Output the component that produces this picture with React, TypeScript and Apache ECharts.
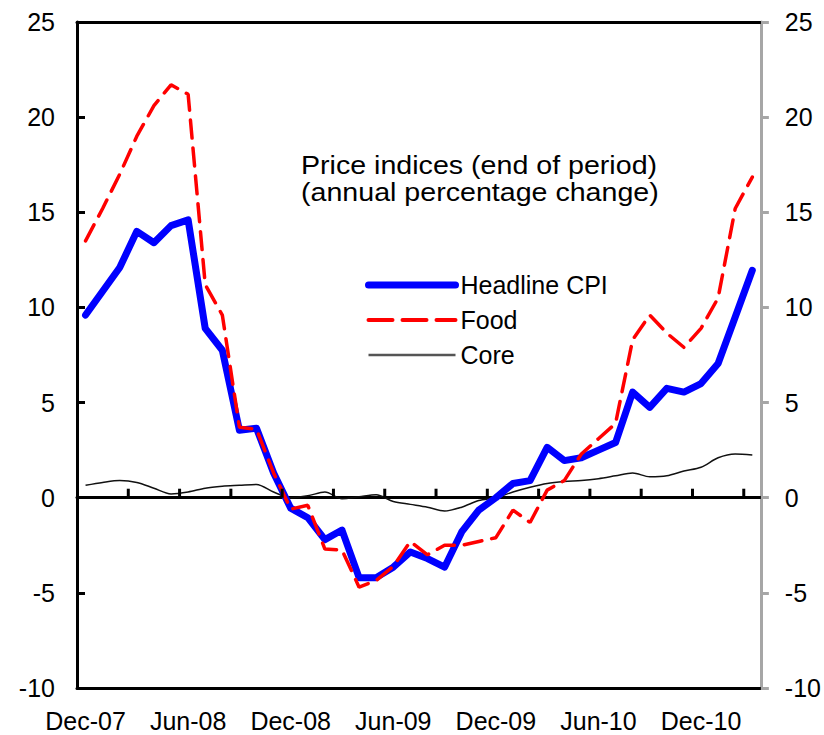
import React, { useEffect, useRef } from "react";
import * as echarts from "echarts";

const months = [
  "Dec-07","Jan-08","Feb-08","Mar-08","Apr-08","May-08","Jun-08","Jul-08","Aug-08","Sep-08","Oct-08","Nov-08",
  "Dec-08","Jan-09","Feb-09","Mar-09","Apr-09","May-09","Jun-09","Jul-09","Aug-09","Sep-09","Oct-09","Nov-09",
  "Dec-09","Jan-10","Feb-10","Mar-10","Apr-10","May-10","Jun-10","Jul-10","Aug-10","Sep-10","Oct-10","Nov-10",
  "Dec-10","Jan-11","Feb-11","Mar-11",
];

const headlineCPI = [
  9.6, 10.85, 12.1, 14.0, 13.4, 14.3, 14.6, 8.9, 7.75, 3.55, 3.65, 1.3,
  -0.55, -1.05, -2.2, -1.7, -4.2, -4.2, -3.65, -2.85, -3.2, -3.65, -1.8, -0.65,
  0.0, 0.75, 0.9, 2.65, 1.95, 2.1, 2.5, 2.9, 5.55, 4.75, 5.75, 5.55,
  6.0, 7.05, 9.5, 11.95,
];

const food = [
  13.5, 15.2, 17.0, 19.0, 20.6, 21.7, 21.2, 11.2, 9.6, 3.7, 3.6, 1.3,
  -0.6, -0.4, -2.7, -2.75, -4.7, -4.35, -3.6, -2.3, -3.0, -2.5, -2.5, -2.3,
  -2.1, -0.65, -1.3, 0.4, 0.9, 2.3, 3.1, 3.9, 8.3, 9.6, 8.65, 7.9,
  8.9, 10.5, 15.2, 16.85,
];

const core = [
  0.65, 0.8, 0.9, 0.8, 0.5, 0.2, 0.3, 0.5, 0.6, 0.65, 0.7, 0.3,
  0.0, 0.1, 0.3, -0.05, 0.05, 0.15, -0.2, -0.35, -0.5, -0.7, -0.5, -0.15,
  0.0, 0.3, 0.55, 0.75, 0.85, 0.9, 1.0, 1.15, 1.3, 1.1, 1.15, 1.4,
  1.6, 2.1, 2.3, 2.25,
];

const titleLines = ["Price indices (end of period)", "(annual percentage change)"];

// zero-line tick marks: at every third month boundary
const TICK_STEP = 3;
const zeroTickIndices = months.map((_, i) => i).filter((i) => i > 0 && i % TICK_STEP === 0);

const FONT = "Liberation Sans, Arial, sans-serif";

const titleGraphic = {
  type: "text",
  id: "title",
  x: 301,
  y: 151,
  scaleX: 1.1,
  style: {
    text: titleLines.join("\n"),
    font: `26px ${FONT}`,
    fill: "#000",
    lineHeight: 27,
  },
};

export default function App() {
  const ref = useRef<HTMLDivElement>(null);

  useEffect(() => {
    if (!ref.current) return;
    const chart = echarts.init(ref.current, undefined, { renderer: "svg" });
    const yCommon = {
      type: "value" as const,
      min: -10,
      max: 25,
      interval: 5,
      splitLine: { show: false },
    };
    chart.setOption({
      animation: false,
      backgroundColor: "#ffffff",
      textStyle: { fontFamily: FONT },
      grid: { left: 77, right: 63, top: 22, bottom: 47, containLabel: false },
      legend: {
        orient: "vertical",
        left: 360,
        top: 266,
        itemWidth: 87,
        itemHeight: 20,
        itemGap: 7,
        itemStyle: { opacity: 0 },
        data: [
          { name: "Headline CPI", lineStyle: { width: 7, color: "#0000ff", cap: "round" } },
          { name: "Food", lineStyle: { width: 4, color: "#ff0000", type: [24, 10] } },
          { name: "Core", lineStyle: { width: 2.5, color: "#555555" } },
        ],
        textStyle: { fontSize: 25, color: "#000", fontFamily: FONT, lineHeight: 28 },
      },
      graphic: [titleGraphic],
      xAxis: [
        {
          type: "category",
          data: months,
          position: "bottom",
          boundaryGap: true,
          axisLine: { onZero: false, lineStyle: { color: "#000", width: 3 } },
          axisTick: { show: false },
          axisLabel: {
            interval: 5,
            fontSize: 25,
            color: "#000",
            margin: 20,
            fontFamily: FONT,
          },
        },
        {
          type: "category",
          data: months,
          position: "top",
          boundaryGap: true,
          axisLine: { onZero: false, lineStyle: { color: "#000", width: 3 } },
          axisTick: { show: false },
          axisLabel: { show: false },
        },
        {
          type: "category",
          data: months,
          position: "bottom",
          boundaryGap: true,
          axisLine: { onZero: true, lineStyle: { color: "#000", width: 3 } },
          axisTick: { show: false },
          axisLabel: { show: false },
        },
      ],
      yAxis: [
        {
          ...yCommon,
          position: "left",
          axisLine: { show: true, lineStyle: { color: "#000", width: 3 } },
          axisTick: { show: true, inside: true, length: 8, lineStyle: { color: "#000", width: 3 } },
          axisLabel: { fontSize: 25, color: "#000", margin: 22, fontFamily: FONT },
        },
        {
          ...yCommon,
          position: "right",
          axisLine: { show: true, lineStyle: { color: "#a6a6a6", width: 3 } },
          axisTick: { show: true, inside: false, length: 8, lineStyle: { color: "#a6a6a6", width: 3 } },
          axisLabel: { fontSize: 25, color: "#000", margin: 24, fontFamily: FONT },
        },
      ],
      series: [
        {
          name: "Core",
          type: "line",
          data: core,
          xAxisIndex: 0,
          yAxisIndex: 0,
          symbol: "none",
          smooth: 0.3,
          lineStyle: { color: "#111", width: 1.5 },
          itemStyle: { color: "#444" },
        },
        {
          name: "Headline CPI",
          type: "line",
          data: headlineCPI,
          xAxisIndex: 0,
          yAxisIndex: 0,
          symbol: "none",
          lineStyle: { color: "#0000ff", width: 7, join: "round", cap: "round" },
          itemStyle: { color: "#0000ff" },
        },
        {
          name: "Food",
          type: "line",
          data: food,
          xAxisIndex: 0,
          yAxisIndex: 0,
          symbol: "none",
          lineStyle: { color: "#ff0000", width: 3.5, type: [18, 10], cap: "round" },
          itemStyle: { color: "#ff0000" },
        },
      ],
    });

    // Zero-line tick marks, positioned through the chart's own scales
    try {
      const finder = { xAxisIndex: 0, yAxisIndex: 0 };
      const p0 = chart.convertToPixel(finder, [0, 0]) as number[];
      const p1 = chart.convertToPixel(finder, [1, 0]) as number[];
      const band = p1[0] - p0[0];
      const tickEls = zeroTickIndices.map((i) => {
        const c = chart.convertToPixel(finder, [i, 0]) as number[];
        const x = c[0] - band / 2;
        const y = c[1];
        return {
          type: "line",
          id: `zt${i}`,
          z: 5,
          silent: true,
          shape: { x1: x, y1: y, x2: x, y2: y - 9 },
          style: { stroke: "#000", lineWidth: 3 },
        };
      });
      chart.setOption({ graphic: [titleGraphic, ...tickEls] });
    } catch (e) {
      // ignore
    }

    return () => chart.dispose();
  }, []);

  return (
    <div
      ref={ref}
      style={{ position: "fixed", left: 0, top: 0, width: 824, height: 735 }}
    />
  );
}
